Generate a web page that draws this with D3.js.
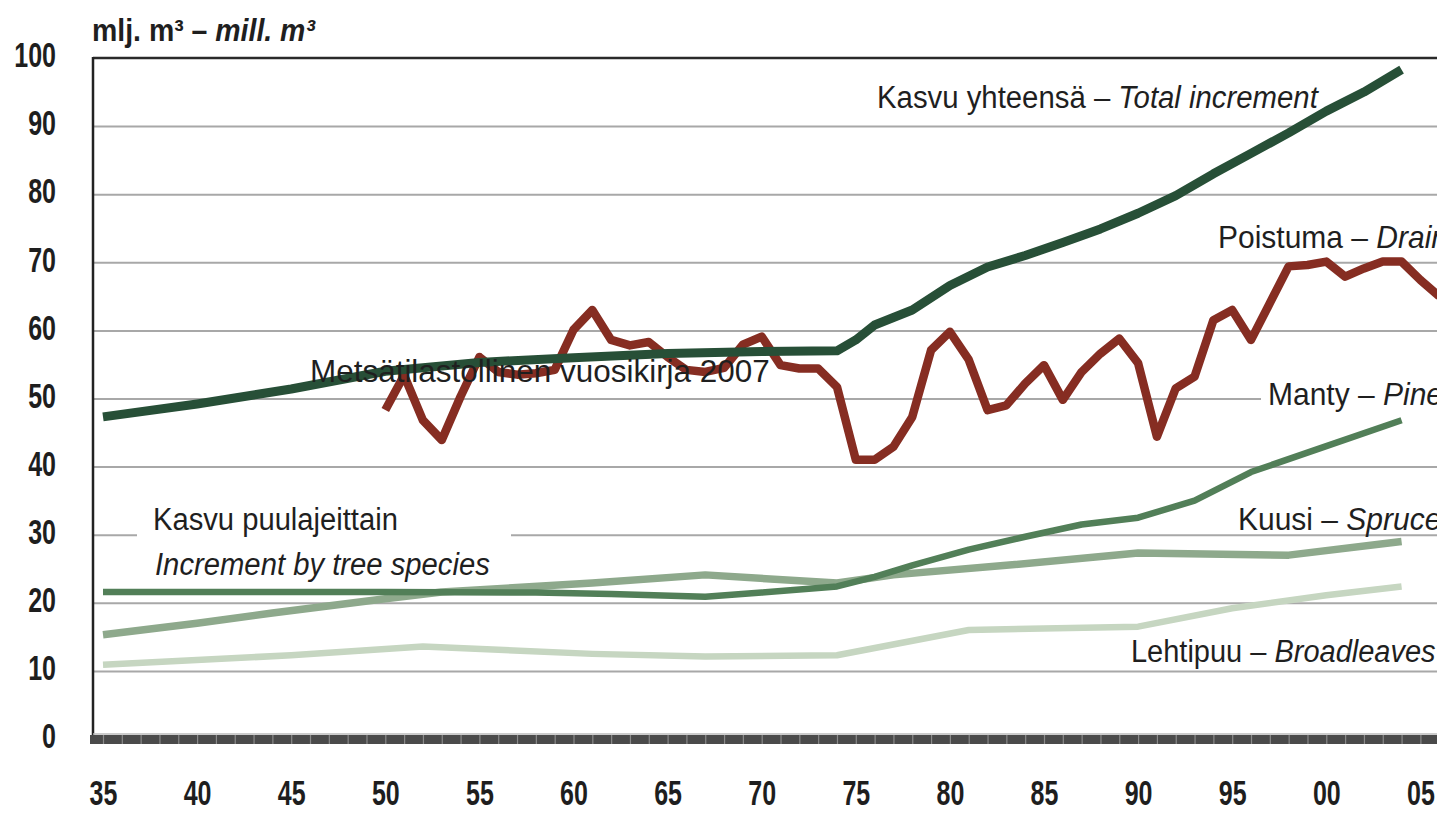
<!DOCTYPE html>
<html><head><meta charset="utf-8">
<script src="https://cdn.jsdelivr.net/npm/d3@7"></script>
<style>html,body{margin:0;padding:0;background:#fff;overflow:hidden}text{font-family:"Liberation Sans",Arial,sans-serif}</style>
</head><body>
<svg id="c" width="1437" height="814"></svg>
<script>
// ---- data ----
const drainYears = d3.range(1950, 2007);
const drainValues = [48.3,53.4,46.8,43.9,50.3,56.1,53.9,53.5,53.7,54.2,
  60.1,63.0,58.6,57.8,58.3,56.1,54.2,53.9,54.5,57.9,
  59.1,54.9,54.4,54.4,51.7,41.0,41.0,42.9,47.3,57.1,
  59.8,55.7,48.3,49.0,52.2,54.9,49.8,53.9,56.6,58.8,
  55.2,44.4,51.5,53.2,61.5,63.0,58.6,64.0,69.4,69.6,
  70.1,67.9,69.1,70.1,70.1,67.4,65.0];
const totalYears  = [1935,1940,1945,1950,1955,1960,1965,1970,1974,1975,1976,1978,1980,1982,1984,1986,1988,1990,1992,1994,1996,1998,2000,2002,2004];
const totalValues = [47.3,49.2,51.4,54.0,55.3,56.0,56.6,56.9,57.0,58.6,60.8,63.0,66.6,69.3,71.0,72.9,74.9,77.2,79.8,83.0,86.0,89.0,92.2,95.0,98.3];
const pineYears  = [1935,1940,1950,1958,1962,1967,1970,1974,1976,1978,1981,1984,1987,1990,1993,1996,2000,2004];
const pineValues = [21.6,21.6,21.6,21.5,21.3,20.9,21.5,22.4,23.8,25.5,27.8,29.7,31.5,32.5,35.0,39.2,43.0,46.8];
const spruceYears  = [1935,1940,1944,1950,1953,1961,1967,1974,1977,1983,1990,1998,2004];
const spruceValues = [15.3,17.0,18.5,20.6,21.6,22.9,24.1,22.9,24.1,25.5,27.3,27.0,29.0];
const broadYears  = [1935,1945,1952,1961,1967,1974,1981,1990,1995,2000,2004];
const broadValues = [10.9,12.3,13.6,12.5,12.1,12.3,16.0,16.5,19.2,21.1,22.4];
const yTickValues = [0,10,20,30,40,50,60,70,80,90,100];
const xTickYears  = [1935,1940,1945,1950,1955,1960,1965,1970,1975,1980,1985,1990,1995,2000,2005];
const xTickLabels = ["35","40","45","50","55","60","65","70","75","80","85","90","95","00","05"];
const yearMarks = d3.range(1935, 2006);

// ---- layout ----
const W = 1437, H = 814;
const plotLeft = 93, plotTop = 58, plotBottom = 739;
const x = d3.scaleLinear().domain([1935, 2005]).range([103, 1420.4]);
const y = d3.scaleLinear().domain([0, 100]).range([plotBottom, plotTop]);
const svg = d3.select("#c");

// gridlines
const grid = svg.append("g").attr("transform", `translate(${plotLeft},0)`)
  .call(d3.axisLeft(y).tickValues(yTickValues.filter(v => v > 0 && v < 100)).tickSize(-(W - plotLeft)).tickFormat(""));
grid.select(".domain").remove();
grid.selectAll("line").attr("stroke", "#a8a8a8").attr("stroke-width", 2);

// top border
svg.append("line").attr("x1", plotLeft).attr("x2", W).attr("y1", y(100)).attr("y2", y(100))
  .attr("stroke", "#2a2a2a").attr("stroke-width", 2.5);

// white label backgrounds
svg.append("rect").attr("x", 137).attr("y", 503).attr("width", 374).attr("height", 82).attr("fill", "#fff");
svg.append("rect").attr("x", 1261).attr("y", 378).attr("width", 180).attr("height", 34).attr("fill", "#fff");

// lines
const lineGen = (xs) => d3.line().x((d, i) => x(xs[i])).y(d => y(d));
function drawSeries(years, vals, color, width) {
  svg.append("path").datum(vals).attr("d", lineGen(years))
    .attr("fill", "none").attr("stroke", color).attr("stroke-width", width)
    .attr("stroke-linejoin", "round").attr("stroke-linecap", "butt");
}
drawSeries(broadYears, broadValues, "#c6d6c1", 6.5);
drawSeries(spruceYears, spruceValues, "#8ea98c", 7.5);
drawSeries(pineYears, pineValues, "#527f58", 6.5);
drawSeries(drainYears, drainValues, "#862d22", 8.5);
drawSeries(totalYears, totalValues, "#274f37", 9);

// left axis line
svg.append("line").attr("x1", plotLeft).attr("x2", plotLeft).attr("y1", plotTop - 1).attr("y2", plotBottom + 5)
  .attr("stroke", "#222").attr("stroke-width", 2.5);

// bottom axis band with yearly ticks
svg.append("rect").attr("x", 90).attr("y", 735).attr("width", W - 90).attr("height", 9).attr("fill", "#4a4a4a");
svg.append("line").attr("x1", plotLeft).attr("x2", W).attr("y1", 734).attr("y2", 734).attr("stroke", "#bbb").attr("stroke-width", 1.5);
const marks = svg.append("g").attr("transform", "translate(0,735)")
  .call(d3.axisBottom(x).tickValues(yearMarks).tickSize(9).tickFormat(""));
marks.select(".domain").remove();
marks.selectAll("line").attr("stroke", "#8a8a8a").attr("stroke-width", 1.2);

// y labels
const ya = svg.append("g").attr("transform", "translate(56,0)")
  .call(d3.axisLeft(y).tickValues(yTickValues).tickSize(0).tickPadding(0));
ya.select(".domain").remove();
ya.selectAll("text").attr("font-size", 25).attr("font-weight", "bold").attr("fill", "#1e1e1e")
  .attr("font-family", "Liberation Sans, Arial, sans-serif")
  .attr("dy", "0.25em").attr("transform", "scale(1,1.4)");

// x labels
const xa = svg.append("g").attr("transform", "translate(0,796)")
  .call(d3.axisBottom(x).tickValues(xTickYears).tickSize(0).tickPadding(0).tickFormat((d, i) => xTickLabels[i]));
xa.select(".domain").remove();
xa.selectAll("text").attr("font-size", 25).attr("font-weight", "bold").attr("fill", "#1e1e1e")
  .attr("font-family", "Liberation Sans, Arial, sans-serif")
  .attr("y", 0).attr("dy", "0.25em").attr("transform", "scale(1,1.4)");

// text labels
function label(px, baseline, parts, opts) {
  const o = Object.assign({ size: 29, weight: "normal", sy: 1.05, width: null, fill: "#1f1f1f" }, opts || {});
  const t = svg.append("text").attr("font-size", o.size).attr("font-weight", o.weight).attr("fill", o.fill)
    .attr("font-family", "Liberation Sans, Arial, sans-serif");
  parts.forEach(p => t.append("tspan").text(p[0]).attr("font-style", p[1] ? "italic" : "normal"));
  let sx = 1;
  if (o.width) sx = o.width / t.node().getComputedTextLength();
  t.attr("transform", `translate(${px},${baseline}) scale(${sx},${o.sy})`);
  return t;
}
label(92, 41, [["mlj. m³ – ", false], ["mill. m³", true]], { size: 27, weight: "bold", width: 223, sy: 1.15 });
label(877, 108, [["Kasvu yhteensä – ", false], ["Total increment", true]], { width: 441 });
label(1218, 248, [["Poistuma – ", false], ["Drain", true]], { size: 30 });
label(310, 382, [["Metsätilastollinen vuosikirja 2007", false]], { size: 30, width: 460 });
label(1268, 405, [["Manty – ", false], ["Pine", true]], { size: 30 });
label(1238, 530, [["Kuusi – ", false], ["Spruce", true]], { size: 30 });
label(1131, 662, [["Lehtipuu – ", false], ["Broadleaves", true]], { size: 29 });
label(153, 530, [["Kasvu puulajeittain", false]], { width: 245 });
label(155, 575, [["Increment by tree species", true]], { width: 335 });
</script>
</body></html>
